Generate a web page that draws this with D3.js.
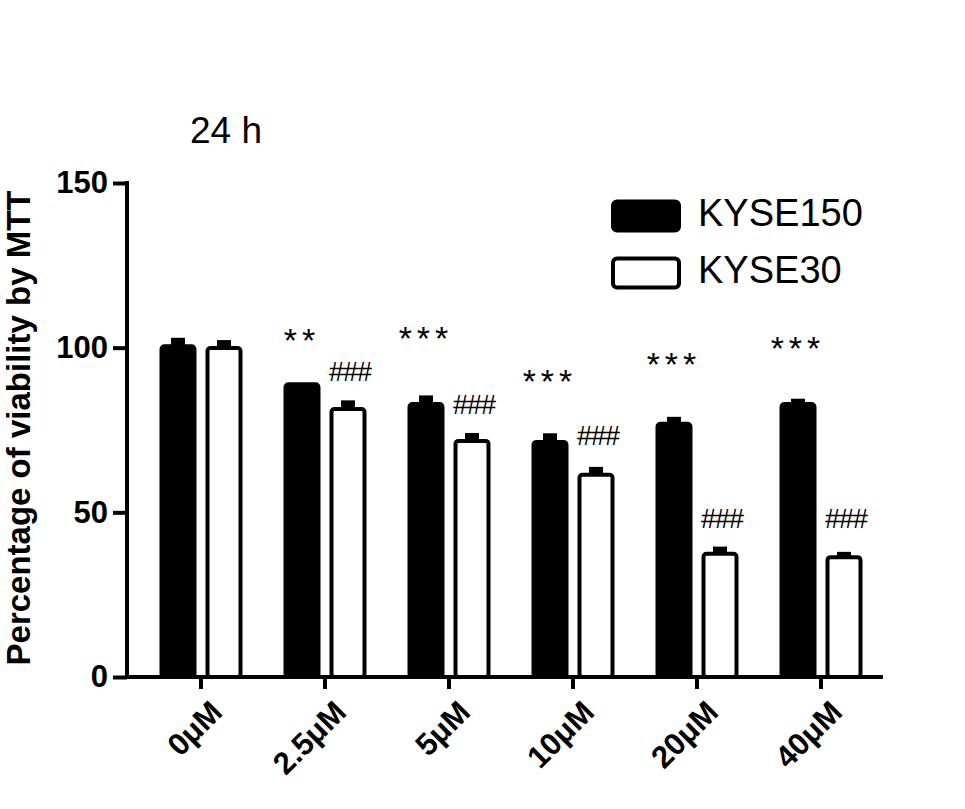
<!DOCTYPE html>
<html><head><meta charset="utf-8">
<script src="https://cdn.jsdelivr.net/npm/d3@7"></script>
<style>body{margin:0;background:#fff}</style></head>
<body><svg id="chart" width="965" height="809"></svg>
<script>
const Doses = ['0\u03bcM', '2.5\u03bcM', '5\u03bcM', '10\u03bcM', '20\u03bcM', '40\u03bcM'];
const Kyse150 = [101, 89.5, 83.5, 72, 77.5, 83.5];
const Kyse150Err = [2, 0, 2, 2, 1.5, 1];
const Kyse30 = [100.5, 82, 72.3, 62, 38, 37];
const Kyse30Err = [1.8, 2, 1.8, 1.8, 1.6, 1];
const StarLabels = ['', '**', '***', '***', '***', '***'];
const StarLevels = [0, 101.5, 102, 89, 94, 99];
const HashLabels = ['', '###', '###', '###', '###', '###'];
const HashLevels = [0, 92, 82, 72.5, 47.5, 47.5];
const YTicks = [0, 50, 100, 150];

const Svg = d3.select('#chart');
const Font = 'Arial, "Liberation Sans", sans-serif';
const y = d3.scaleLinear().domain([0, 150]).range([677, 183]);
const x = d3.scaleBand().domain(Doses).range([139, 883]).paddingInner(0).paddingOuter(0);
const BarW = 37, Gap = 9;

// axes
const yAxis = Svg.append('g').attr('transform', 'translate(127,0)')
    .call(d3.axisLeft(y).tickValues(YTicks).tickSize(14).tickPadding(5));
const xAxis = Svg.append('g').attr('transform', 'translate(0,677)')
    .call(d3.axisBottom(x).tickSize(12).tickPadding(4));
[yAxis, xAxis].forEach(a => {
    a.select('.domain').attr('stroke-width', 4);
    a.selectAll('.tick line').attr('stroke-width', 4);
    a.selectAll('text').attr('font-family', Font).attr('font-weight', 'bold').attr('font-size', 31).attr('fill', '#000');
});
xAxis.select('.domain').attr('d', 'M125,0H883');
yAxis.select('.domain').attr('d', 'M0,181V679');
xAxis.selectAll('.tick text')
    .attr('text-anchor', 'end')
    .attr('transform', 'translate(4,18) rotate(-45)')
    .attr('dy', '0.35em');

function bars(values, errs, offset, fill)
{
    Doses.forEach((d, i) => {
        const cx = x(d) + x.bandwidth() / 2 + offset;
        const g = Svg.append('g');
        if (errs[i] > 0)
            g.append('rect').attr('x', cx - 7).attr('y', y(values[i] + errs[i])).attr('width', 14)
             .attr('height', y(values[i]) - y(values[i] + errs[i]) + 2).attr('fill', '#000');
        g.append('rect').attr('x', cx - BarW / 2 + 2).attr('y', y(values[i]) + 2)
         .attr('width', BarW - 4).attr('height', y(0) - y(values[i]) - 2)
         .attr('rx', 3).attr('fill', fill).attr('stroke', '#000').attr('stroke-width', 4);
    });
}
bars(Kyse150, Kyse150Err, -(BarW + Gap) / 2, '#000');
bars(Kyse30, Kyse30Err, (BarW + Gap) / 2, '#fff');

function labels(texts, levels, offset, size, spacing)
{
    Doses.forEach((d, i) => {
        if (!texts[i]) return;
        Svg.append('text').attr('x', x(d) + x.bandwidth() / 2 + offset).attr('y', y(levels[i]))
           .attr('text-anchor', 'middle').attr('dominant-baseline', 'middle')
           .attr('font-family', Font).attr('font-size', size).attr('letter-spacing', spacing)
           .text(texts[i]);
    });
}
labels(StarLabels, StarLevels, -(BarW + Gap) / 2, 34, 5);
labels(HashLabels, HashLevels, (BarW + Gap) / 2 + 2, 27, -1);

// title and y label
Svg.append('text').attr('x', 190).attr('y', 143).attr('font-family', Font).attr('font-size', 37).text('24 h');
Svg.append('text').attr('transform', 'translate(30,428) rotate(-90)').attr('text-anchor', 'middle')
   .attr('font-family', Font).attr('font-weight', 'bold').attr('font-size', 33).text('Percentage of viability by MTT');

// legend
[['KYSE150', '#000'], ['KYSE30', '#fff']].forEach(([name, fill], i) => {
    const ly = 200 + i * 57;
    Svg.append('rect').attr('x', 613).attr('y', ly + 1.5).attr('width', 66).attr('height', 29)
       .attr('rx', 4).attr('fill', fill).attr('stroke', '#000').attr('stroke-width', 4);
    Svg.append('text').attr('x', 698).attr('y', ly + 16).attr('dominant-baseline', 'middle')
       .attr('font-family', Font).attr('font-size', 38).text(name);
});
</script></body></html>
